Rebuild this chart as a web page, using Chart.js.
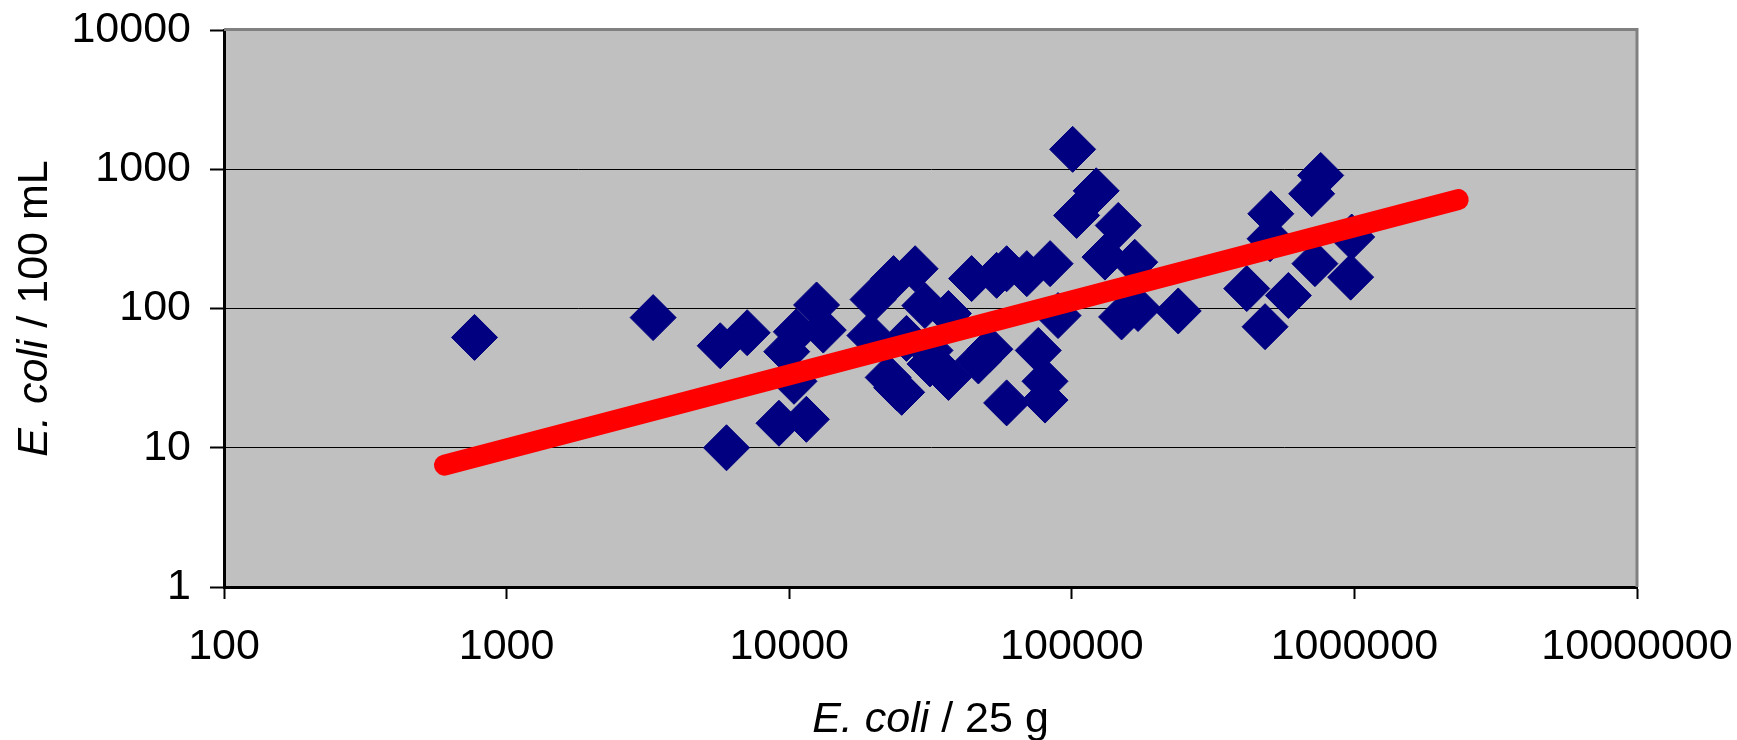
<!DOCTYPE html>
<html>
<head>
<meta charset="utf-8">
<title>E. coli</title>
<script src="https://cdn.jsdelivr.net/npm/chart.js@4.4.0/dist/chart.umd.min.js"></script>
<style>
  html, body { margin: 0; padding: 0; background: #fff; }
  #wrap { width: 1737px; height: 740px; }
</style>
</head>
<body>
<div id="wrap"><canvas id="ecoliChart" width="1737" height="740"></canvas></div>
<script>
// E. coli per 25 g (x) vs E. coli per 100 mL (y)
const ecoliPer25g = [
  770, 3300, 5700, 7100, 6000, 12500, 10600, 13200, 9800, 10400,
  9200, 11500, 19800, 19300, 22400, 23400, 27900, 30200, 36600, 26000,
  31500, 24000, 25000, 36600, 31500, 46700, 51300, 44200, 54200, 58800,
  69300, 83800, 58800, 80400, 80400, 76100, 89400, 100700, 122000, 104000,
  146000, 131000, 167000, 150000, 171500, 238000, 506000, 503000, 416000, 483000,
  584000, 760000, 706000, 978000, 725000, 970000
];
const ecoliPer100mL = [
  62, 86, 54, 67, 10, 106, 68, 70, 49, 30,
  15, 16, 116, 64, 32, 164, 193, 105, 92, 61,
  50, 27, 25, 32, 40, 42, 51, 164, 173, 193,
  178, 210, 21, 30, 22, 50, 89, 1390, 700, 466,
  395, 234, 215, 87, 100, 96, 479, 317, 139, 74,
  124, 903, 667, 326, 210, 168
];

// power trend line, ends
const trendX = [603, 2330000];
const trendY = [7.5, 605];

const xTicks = [100, 1000, 10000, 100000, 1000000, 10000000];
const yTicks = [1, 10, 100, 1000, 10000];

const xTitle = [{ text: 'E. coli', italic: true }, { text: ' / 25 g' }];
const yTitle = [{ text: 'E. coli', italic: true }, { text: ' / 100 mL' }];

const FONT = '"Liberation Sans", Arial, sans-serif';

function drawTitle(ctx, parts, size) {
  let total = 0;
  const widths = parts.map(p => {
    ctx.font = (p.italic ? 'italic ' : '') + size + 'px ' + FONT;
    const w = ctx.measureText(p.text).width;
    total += w;
    return w;
  });
  let x = -total / 2;
  parts.forEach((p, i) => {
    ctx.font = (p.italic ? 'italic ' : '') + size + 'px ' + FONT;
    ctx.fillText(p.text, x, 0);
    x += widths[i];
  });
}

const plotFrame = {
  id: 'plotFrame',
  beforeDraw(chart) {
    const { ctx, chartArea: a } = chart;
    ctx.save();
    ctx.fillStyle = '#c0c0c0';
    ctx.fillRect(a.left, a.top, a.right - a.left, a.bottom - a.top);
    ctx.restore();
  },
  afterDraw(chart) {
    const { ctx, chartArea: a } = chart;
    ctx.save();
    // grey frame on top and right
    ctx.strokeStyle = '#808080';
    ctx.lineWidth = 3;
    ctx.beginPath();
    ctx.moveTo(a.left, a.top - 0.5);
    ctx.lineTo(a.right, a.top - 0.5);
    ctx.lineTo(a.right, a.bottom);
    ctx.stroke();

    ctx.fillStyle = '#000';
    ctx.textAlign = 'left';
    ctx.textBaseline = 'alphabetic';
    ctx.save();
    ctx.translate((a.left + a.right) / 2, 732);
    drawTitle(ctx, xTitle, 43);
    ctx.restore();

    ctx.save();
    ctx.translate(47, (a.top + a.bottom) / 2);
    ctx.rotate(-Math.PI / 2);
    drawTitle(ctx, yTitle, 43);
    ctx.restore();
    ctx.restore();
  }
};

const points = ecoliPer25g.map((x, i) => ({ x: x, y: ecoliPer100mL[i] }));
const trend = trendX.map((x, i) => ({ x: x, y: trendY[i] }));

new Chart(document.getElementById('ecoliChart'), {
  type: 'scatter',
  data: {
    datasets: [
      {
        label: 'Trend',
        type: 'line',
        data: trend,
        borderColor: '#ff0000',
        borderWidth: 21,
        borderCapStyle: 'round',
        pointRadius: 0,
        fill: false,
        order: 0
      },
      {
        label: 'Samples',
        data: points,
        pointStyle: 'rectRot',
        pointRadius: 23,
        backgroundColor: '#000080',
        borderColor: '#000080',
        borderWidth: 1,
        order: 1
      }
    ]
  },
  options: {
    responsive: false,
    animation: false,
    layout: { padding: { left: 0, top: 30, right: 100, bottom: 0 } },
    plugins: { legend: { display: false }, tooltip: { enabled: false } },
    scales: {
      x: {
        type: 'logarithmic',
        min: 100,
        max: 10000000,
        afterBuildTicks: (scale) => { scale.ticks = xTicks.map(v => ({ value: v })); },
        afterFit: (scale) => {
          scale.height = 153;
          scale.paddingLeft = 0;
          scale.paddingRight = 0;
        },
        grid: {
          drawOnChartArea: false,
          drawTicks: true,
          tickLength: 12,
          tickWidth: 2,
          tickColor: '#000'
        },
        border: { color: '#000', width: 3 },
        ticks: {
          autoSkip: false,
          maxRotation: 0,
          padding: 22,
          color: '#000',
          font: { family: FONT, size: 43 },
          callback: (v) => String(v)
        }
      },
      y: {
        type: 'logarithmic',
        min: 1,
        max: 10000,
        afterBuildTicks: (scale) => { scale.ticks = yTicks.map(v => ({ value: v })); },
        afterFit: (scale) => {
          scale.width = 224;
          scale.paddingTop = 0;
          scale.paddingBottom = 0;
        },
        grid: {
          color: '#000',
          lineWidth: 1,
          tickLength: 14,
          tickWidth: 2,
          tickColor: '#000'
        },
        border: { color: '#000', width: 3 },
        ticks: {
          autoSkip: false,
          padding: 19,
          color: '#000',
          font: { family: FONT, size: 43 },
          callback: (v) => String(v)
        }
      }
    }
  },
  plugins: [plotFrame]
});
</script>
</body>
</html>
